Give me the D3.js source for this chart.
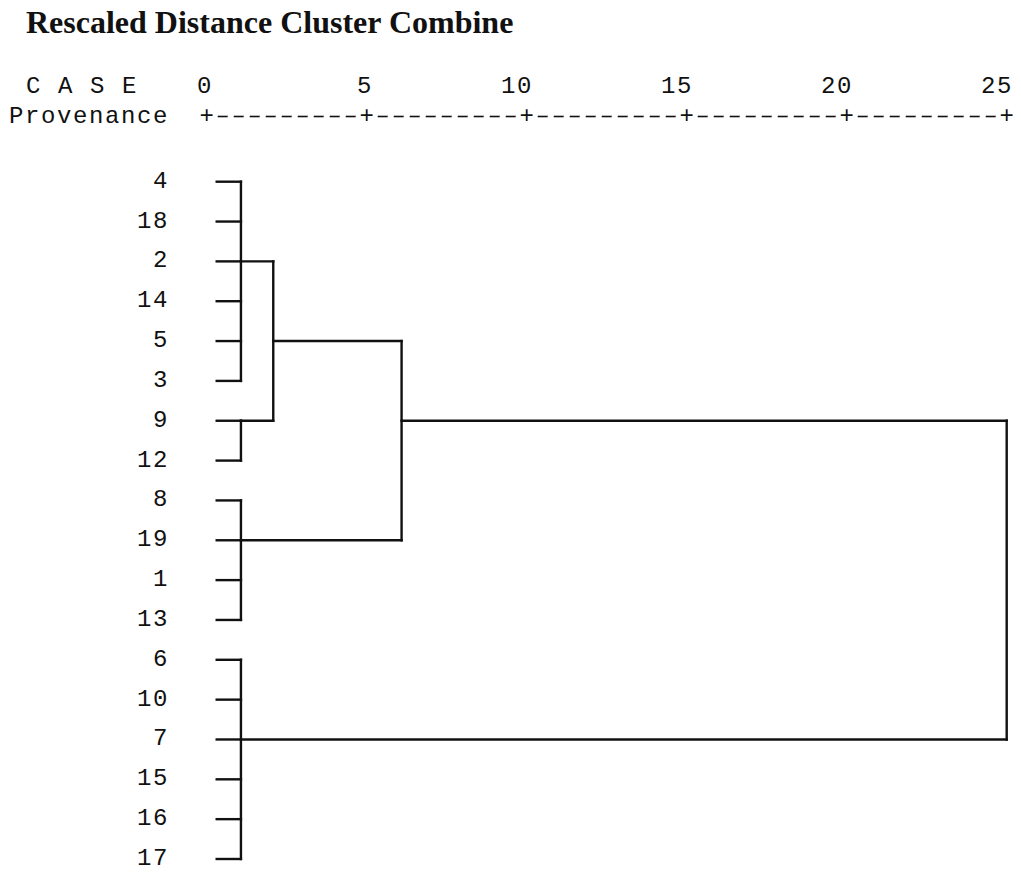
<!DOCTYPE html>
<html>
<head>
<meta charset="utf-8">
<script src="https://cdn.jsdelivr.net/npm/d3@7"></script>
<style>
  body { margin: 0; background: #fff; }
  svg { display: block; }
  .mono { font-family: "Liberation Mono", "Courier New", monospace; font-size: 24px; fill: #111; }
</style>
</head>
<body>
<svg id="chart" width="1021" height="872"></svg>
<script>
// case order as printed down the left side
const caseLabels = ["4", "18", "2", "14", "5", "3", "9", "12", "8", "19", "1", "13", "6", "10", "7", "15", "16", "17"];

// agglomeration steps: which nodes join, and at what rescaled distance
const mergeIds = ["A", "B", "C", "D", "E", "F", "G"];
const mergeChildren = [
    ["4", "18", "2", "14", "5", "3"],
    ["9", "12"],
    ["8", "19", "1", "13"],
    ["6", "10", "7", "15", "16", "17"],
    ["A", "B"],
    ["E", "C"],
    ["F", "D"]
];
const mergeHeights = [1.07, 1.07, 1.07, 1.07, 2.08, 6.09, 25];

const axisTicks = [0, 5, 10, 15, 20, 25];

const svg = d3.select("#chart");
const x = d3.scaleLinear().domain([0, 25]).range([206.7, 1006.7]);
const y = d3.scaleLinear().domain([0, caseLabels.length - 1]).range([181.7, 859]);
const charW = (x(25) - x(0)) / 50;
const spacing = (charW - 14.4) + "px";

// title
svg.append("text")
    .attr("x", 26)
    .attr("y", 33)
    .style("font-family", "'Liberation Serif', 'Times New Roman', serif")
    .style("font-weight", "bold")
    .style("font-size", "32px")
    .style("fill", "#111")
    .text("Rescaled Distance Cluster Combine");

svg.append("text").attr("class", "mono")
    .attr("x", 10 + charW)
    .attr("y", 93)
    .style("letter-spacing", spacing)
    .text("C A S E");

svg.append("text").attr("class", "mono")
    .attr("x", 9)
    .attr("y", 123)
    .style("letter-spacing", spacing)
    .text("Provenance");

// tick numbers, last digit sits over the '+'
svg.selectAll(".tick-label")
    .data(axisTicks)
    .enter().append("text")
    .attr("class", "mono tick-label")
    .attr("x", d => x(d) + charW / 2 - 1.6)
    .attr("y", 93)
    .attr("text-anchor", "end")
    .style("letter-spacing", spacing)
    .text(d => d);

// +---------+ ruler, one character every half unit
const rulerSteps = d3.range(0, 25.01, 0.5);
svg.selectAll(".plus")
    .data(rulerSteps.filter(d => d % 5 === 0))
    .enter().append("text")
    .attr("class", "mono plus")
    .attr("x", d => x(d))
    .attr("y", 123)
    .attr("text-anchor", "middle")
    .text("+");
svg.selectAll(".dash")
    .data(rulerSteps.filter(d => d % 5 !== 0))
    .enter().append("line")
    .attr("class", "dash")
    .attr("x1", d => x(d) - 5)
    .attr("x2", d => x(d) + 5)
    .attr("y1", 116.5)
    .attr("y2", 116.5)
    .attr("stroke", "#111")
    .attr("stroke-width", 1.6);

// case labels
svg.selectAll(".case")
    .data(caseLabels)
    .enter().append("text")
    .attr("class", "mono case")
    .attr("x", 169)
    .attr("y", (d, i) => y(i) + 6)
    .attr("text-anchor", "end")
    .style("letter-spacing", spacing)
    .text(d => d);

// node positions: leaves by order, clusters at floor of mid row
const row = {}, xStart = {};
caseLabels.forEach((c, i) => { row[c] = i; xStart[c] = x(0) + 10; });

const segs = [];
mergeIds.forEach((id, k) => {
    const kids = mergeChildren[k];
    const h = x(mergeHeights[k]);
    const rows = kids.map(c => row[c]);
    const r0 = d3.min(rows), r1 = d3.max(rows);
    segs.push({ x1: h, x2: h, y1: y(r0), y2: y(r1) });
    kids.forEach(c => {
        segs.push({ x1: xStart[c], x2: h, y1: y(row[c]), y2: y(row[c]) });
    });
    row[id] = Math.floor((rows[0] + rows[rows.length - 1]) / 2);
    xStart[id] = h;
});

svg.append("g")
    .selectAll("line")
    .data(segs)
    .enter().append("line")
    .attr("x1", d => d.x1)
    .attr("x2", d => d.x2)
    .attr("y1", d => d.y1)
    .attr("y2", d => d.y2)
    .attr("stroke", "#111")
    .attr("stroke-width", 2.4)
    .attr("stroke-linecap", "square");
</script>
</body>
</html>
